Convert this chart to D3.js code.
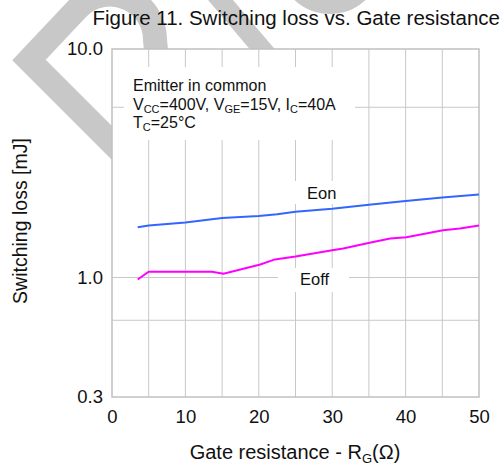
<!DOCTYPE html>
<html>
<head>
<meta charset="utf-8">
<script src="https://cdn.jsdelivr.net/npm/d3@7"></script>
<style>
  body { margin: 0; background: #fff; }
  text { font-family: "Liberation Sans", Arial, sans-serif; fill: #111; }
</style>
</head>
<body>
<div id="chart"></div>
<script>
// data
const eonR   = [3.5, 5, 10, 15, 20, 22.5, 25, 30, 35, 40, 45, 50];
const eonE   = [1.66, 1.69, 1.74, 1.82, 1.86, 1.89, 1.94, 2.00, 2.08, 2.16, 2.24, 2.31];
const eoffR  = [3.5, 5, 13.6, 15.2, 20.2, 22.2, 25, 30.2, 31.5, 35.1, 37.9, 40.1, 45.1, 47.4, 50];
const eoffE  = [0.98, 1.06, 1.06, 1.04, 1.14, 1.20, 1.235, 1.32, 1.34, 1.42, 1.48, 1.50, 1.61, 1.64, 1.69];
const xTicks = [0, 10, 20, 30, 40, 50];
const xGrid  = [5, 10, 15, 20, 25, 30, 35, 40, 45];
const yTicks = [0.3, 1, 10];
const yGrid  = [5.56, 1, 0.65];

const W = 502, H = 467;
const margin = {top: 49, right: 23, bottom: 70, left: 112};

const svg = d3.select("#chart").append("svg")
  .attr("width", W).attr("height", H);

// faint watermark behind everything
const wm = svg.append("g").attr("fill", "none").attr("stroke", "#c8c8c8");
wm.append("path").attr("stroke-width", 24)
  .attr("d", "M150,181 L29,60 L78,8 A45,45 0 0 1 155,40 L160,90");
wm.append("path").attr("stroke-width", 19)
  .attr("d", "M195,-30 L280,70");
wm.append("circle").attr("cx", 330).attr("cy", -38).attr("r", 41).attr("stroke-width", 22);

const x = d3.scaleLinear().domain([0, 50]).range([margin.left, W - margin.right]);
const y = d3.scaleLog().domain([0.3, 10]).range([H - margin.bottom, margin.top]);

// plot background
svg.append("rect")
  .attr("x", x(0)).attr("y", y(10))
  .attr("width", x(50) - x(0)).attr("height", y(0.3) - y(10))
  .attr("fill", "#fff");

// grid
svg.append("g").selectAll("line").data(xGrid).join("line")
  .attr("x1", d => x(d)).attr("x2", d => x(d))
  .attr("y1", y(10)).attr("y2", y(0.3))
  .attr("stroke", "#c8c8c8").attr("stroke-width", 1);
svg.append("g").selectAll("line").data(yGrid).join("line")
  .attr("x1", x(0)).attr("x2", x(50))
  .attr("y1", d => y(d)).attr("y2", d => y(d))
  .attr("stroke", "#c8c8c8").attr("stroke-width", 1);

svg.append("rect")
  .attr("x", x(0)).attr("y", y(10))
  .attr("width", x(50) - x(0)).attr("height", y(0.3) - y(10))
  .attr("fill", "none").attr("stroke", "#c0c0c0").attr("stroke-width", 1.5);

// white label backgrounds
const boxes = [[124, 67, 231, 73], [288, 181, 60, 23], [278, 268, 71, 24]];
svg.append("g").selectAll("rect").data(boxes).join("rect")
  .attr("x", d => d[0]).attr("y", d => d[1])
  .attr("width", d => d[2]).attr("height", d => d[3])
  .attr("fill", "#fff");

// axes
svg.append("g")
  .attr("transform", "translate(0," + (H - margin.bottom + 13) + ")")
  .call(d3.axisBottom(x).tickValues(xTicks).tickSize(0).tickPadding(0))
  .call(g => g.select(".domain").remove())
  .selectAll("text").attr("font-size", 18.5).attr("fill", "#111");

svg.append("g")
  .attr("transform", "translate(" + (margin.left - 9) + ",0)")
  .call(d3.axisLeft(y).tickValues(yTicks).tickFormat(d3.format(".1f")).tickSize(0).tickPadding(0))
  .call(g => g.select(".domain").remove())
  .selectAll("text").attr("font-size", 18.5).attr("fill", "#111");

// lines
const line = d3.line().x(d => x(d[0])).y(d => y(d[1]));
svg.append("path")
  .datum(d3.zip(eonR, eonE))
  .attr("d", line).attr("fill", "none")
  .attr("stroke", "#3366ff").attr("stroke-width", 2);
svg.append("path")
  .datum(d3.zip(eoffR, eoffE))
  .attr("d", line).attr("fill", "none")
  .attr("stroke", "#ff00ff").attr("stroke-width", 2);

svg.append("text").attr("x", 307).attr("y", 199).attr("font-size", 16.5).text("Eon");
svg.append("text").attr("x", 300).attr("y", 285).attr("font-size", 16.5).text("Eoff");

// title
svg.append("text").attr("x", 500).attr("y", 25).attr("text-anchor", "end")
  .attr("font-size", 20.5).text("Figure 11. Switching loss vs. Gate resistance");

// condition note
const note = svg.append("g").attr("font-size", 16);
note.append("text").attr("x", 133).attr("y", 91).text("Emitter in common");
const l2 = note.append("text").attr("x", 133).attr("y", 109.5);
l2.append("tspan").text("V");
l2.append("tspan").attr("font-size", 11).attr("dy", 3).text("CC");
l2.append("tspan").attr("dy", -3).text("=400V, V");
l2.append("tspan").attr("font-size", 11).attr("dy", 3).text("GE");
l2.append("tspan").attr("dy", -3).text("=15V, I");
l2.append("tspan").attr("font-size", 11).attr("dy", 3).text("C");
l2.append("tspan").attr("dy", -3).text("=40A");
const l3 = note.append("text").attr("x", 133).attr("y", 128);
l3.append("tspan").text("T");
l3.append("tspan").attr("font-size", 11).attr("dy", 3).text("C");
l3.append("tspan").attr("dy", -3).text("=25°C");

// axis titles
const xt = svg.append("text").attr("x", 295).attr("y", 459)
  .attr("text-anchor", "middle").attr("font-size", 20);
xt.append("tspan").text("Gate resistance - R");
xt.append("tspan").attr("font-size", 13).attr("dy", 4).text("G");
xt.append("tspan").attr("dy", -4).text("(Ω)");

svg.append("text")
  .attr("transform", "translate(27,221) rotate(-90)")
  .attr("text-anchor", "middle").attr("font-size", 19.5)
  .text("Switching loss [mJ]");
</script>
</body>
</html>
